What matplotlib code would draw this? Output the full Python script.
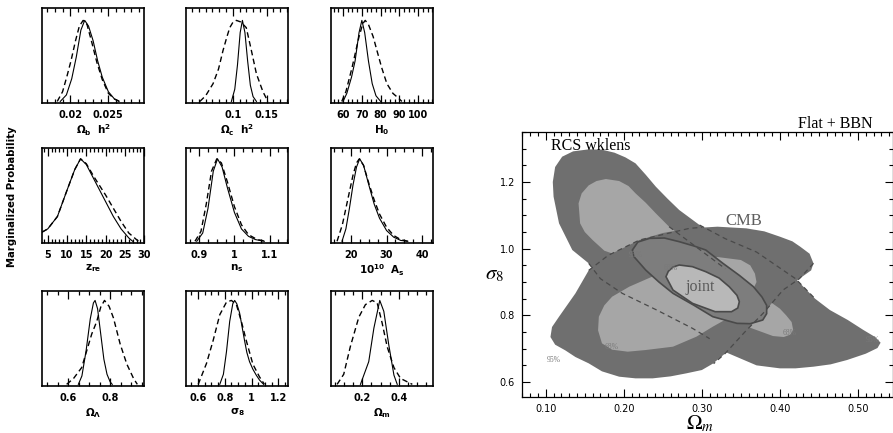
import matplotlib.pyplot as plt
from matplotlib.ticker import MultipleLocator

plt.rcParams['font.family'] = ['DejaVu Sans']

# ---------------- marginalized probability curves (peak = 1) ----------------
# Omega_b h^2
obh2_solid_x = [0.0187, 0.0195, 0.0202, 0.0208, 0.0214, 0.0219, 0.0224, 0.0230, 0.0236, 0.0242, 0.0250, 0.0258, 0.0264]
obh2_solid_y = [0, 0.08, 0.28, 0.55, 0.88, 1.0, 0.93, 0.75, 0.5, 0.3, 0.12, 0.03, 0]
obh2_dash_x = [0.0183, 0.0190, 0.0196, 0.0201, 0.0207, 0.0212, 0.0217, 0.0222, 0.0228, 0.0235, 0.0242, 0.0250, 0.0258, 0.0265]
obh2_dash_y = [0, 0.12, 0.32, 0.5, 0.75, 0.93, 1.0, 0.95, 0.74, 0.48, 0.27, 0.1, 0.03, 0]

# Omega_c h^2
och2_solid_x = [0.098, 0.103, 0.107, 0.111, 0.1143, 0.118, 0.122, 0.126, 0.130, 0.135]
och2_solid_y = [0, 0.15, 0.45, 0.85, 1.0, 0.85, 0.5, 0.2, 0.06, 0]
och2_dash_x = [0.0515, 0.060, 0.071, 0.079, 0.0857, 0.0915, 0.0956, 0.1005, 0.1054, 0.112, 0.120, 0.1275, 0.135, 0.1446, 0.152]
och2_dash_y = [0, 0.07, 0.22, 0.4, 0.63, 0.8, 0.91, 0.98, 1.0, 0.98, 0.91, 0.63, 0.34, 0.12, 0]

# H_0
h0_solid_x = [60, 62, 64.5, 66.4, 68.5, 70, 71.5, 73.5, 75.5, 77.5, 80]
h0_solid_y = [0, 0.1, 0.3, 0.5, 0.85, 1.0, 0.85, 0.5, 0.22, 0.07, 0]
h0_dash_x = [59.3, 61.5, 64.8, 68.4, 70.5, 71.8, 73.5, 76, 78, 80.5, 83.3, 86.5, 89.5, 91.3]
h0_dash_y = [0, 0.12, 0.42, 0.79, 0.96, 1.0, 0.95, 0.8, 0.63, 0.42, 0.22, 0.1, 0.04, 0]

# z_re
zre_solid_x = [3.5, 5, 7.5, 10, 12, 13.5, 15, 17, 20, 22, 24, 26, 27]
zre_solid_y = [0.11, 0.15, 0.3, 0.62, 0.87, 1.0, 0.93, 0.75, 0.48, 0.3, 0.15, 0.04, 0]
zre_dash_x = [3.5, 5, 7.5, 10, 12, 13.5, 15, 17, 20, 22, 24, 26, 28, 28.5]
zre_dash_y = [0.11, 0.15, 0.3, 0.62, 0.87, 1.0, 0.94, 0.78, 0.56, 0.4, 0.24, 0.1, 0.02, 0]

# n_s
ns_solid_x = [0.893, 0.91, 0.925, 0.94, 0.952, 0.965, 0.98, 1.0, 1.02, 1.04, 1.06, 1.085]
ns_solid_y = [0, 0.1, 0.4, 0.85, 1.0, 0.9, 0.65, 0.35, 0.15, 0.06, 0.02, 0]
ns_dash_x = [0.888, 0.905, 0.92, 0.935, 0.95, 0.963, 0.98, 1.0, 1.02, 1.04, 1.065, 1.09]
ns_dash_y = [0, 0.12, 0.45, 0.85, 1.0, 0.95, 0.72, 0.42, 0.2, 0.08, 0.02, 0]

# 10^10 A_s
as_solid_x = [17.4, 18.5, 19.5, 20.5, 21.5, 22.4, 23.5, 25, 26.5, 28, 30, 32, 34, 36]
as_solid_y = [0, 0.15, 0.4, 0.68, 0.9, 1.0, 0.92, 0.68, 0.45, 0.28, 0.13, 0.05, 0.01, 0]
as_dash_x = [16, 17.5, 19, 20.5, 21.5, 22.3, 23.5, 25, 26.5, 28, 30, 32, 34, 36]
as_dash_y = [0, 0.2, 0.5, 0.8, 0.95, 1.0, 0.92, 0.7, 0.5, 0.33, 0.17, 0.07, 0.02, 0]

# Omega_Lambda
ol_solid_x = [0.648, 0.665, 0.685, 0.705, 0.72, 0.728, 0.74, 0.755, 0.77, 0.785, 0.80, 0.81]
ol_solid_y = [0, 0.1, 0.4, 0.78, 0.97, 1.0, 0.9, 0.6, 0.3, 0.12, 0.03, 0]
ol_dash_x = [0.592, 0.625, 0.664, 0.688, 0.712, 0.736, 0.755, 0.773, 0.795, 0.816, 0.848, 0.88, 0.912, 0.93]
ol_dash_y = [0, 0.07, 0.2, 0.4, 0.6, 0.75, 0.92, 1.0, 0.93, 0.79, 0.48, 0.24, 0.07, 0]

# sigma_8
s8_solid_x = [0.763, 0.79, 0.813, 0.837, 0.86, 0.874, 0.89, 0.911, 0.93, 0.948, 0.965, 0.985, 1.01, 1.035, 1.06, 1.09]
s8_solid_y = [0, 0.12, 0.39, 0.75, 0.96, 1.0, 0.96, 0.85, 0.68, 0.52, 0.38, 0.27, 0.18, 0.11, 0.05, 0]
s8_dash_x = [0.602, 0.664, 0.713, 0.763, 0.813, 0.85, 0.887, 0.924, 0.961, 1.01, 1.059, 1.096]
s8_dash_y = [0, 0.25, 0.52, 0.83, 0.98, 1.0, 0.95, 0.75, 0.52, 0.24, 0.09, 0]

# Omega_m
om_solid_x = [0.191, 0.236, 0.264, 0.296, 0.318, 0.345, 0.373, 0.391]
om_solid_y = [0, 0.27, 0.67, 1.0, 0.87, 0.47, 0.11, 0]
om_dash_x = [0.064, 0.1, 0.136, 0.182, 0.218, 0.255, 0.282, 0.309, 0.336, 0.373, 0.409, 0.473]
om_dash_y = [0, 0.12, 0.45, 0.8, 0.95, 1.0, 0.97, 0.73, 0.45, 0.2, 0.07, 0]

panel_labels = [r'$\mathbf{\Omega_b\ \ h^2}$', r'$\mathbf{\Omega_c\ \ h^2}$', r'$\mathbf{H_0}$',
                r'$\mathbf{z_{re}}$', r'$\mathbf{n_s}$', r'$\mathbf{10^{10}\ \ A_s}$',
                r'$\mathbf{\Omega_\Lambda}$', r'$\mathbf{\sigma_8}$', r'$\mathbf{\Omega_m}$']
panel_ticks = [[0.02, 0.025], [0.1, 0.15], [60, 70, 80, 90, 100],
               [5, 10, 15, 20, 25, 30], [0.9, 1.0, 1.1], [20, 30, 40],
               [0.6, 0.8], [0.6, 0.8, 1.0, 1.2], [0.2, 0.4]]
panel_ticklabels = [['0.02', '0.025'], ['0.1', '0.15'], ['60', '70', '80', '90', '100'],
                    ['5', '10', '15', '20', '25', '30'], ['0.9', '1', '1.1'], ['20', '30', '40'],
                    ['0.6', '0.8'], ['0.6', '0.8', '1', '1.2'], ['0.2', '0.4']]

# ---------------- Omega_m - sigma_8 plane ----------------
rcs95_x = [0.109, 0.112, 0.121, 0.135, 0.155, 0.172, 0.188, 0.202, 0.215, 0.228, 0.241, 0.256, 0.271,
           0.297, 0.33, 0.37, 0.42, 0.445, 0.464, 0.487, 0.507, 0.522, 0.529, 0.525, 0.51, 0.486,
           0.465, 0.443, 0.42, 0.40, 0.37, 0.33, 0.288, 0.243, 0.198, 0.17, 0.155, 0.134, 0.117, 0.110]
rcs95_y = [1.20, 1.245, 1.276, 1.292, 1.298, 1.297, 1.288, 1.274, 1.256, 1.222, 1.186, 1.15, 1.116,
           1.071, 1.03, 0.99, 0.91, 0.85, 0.816, 0.786, 0.756, 0.735, 0.718, 0.702, 0.685, 0.666,
           0.653, 0.646, 0.641, 0.641, 0.65, 0.69, 0.761, 0.815, 0.866, 0.91, 0.956, 0.996, 1.076, 1.156]
rcs68_x = [0.165, 0.177, 0.194, 0.206, 0.215, 0.228, 0.241, 0.258, 0.29, 0.33, 0.37, 0.40, 0.408,
           0.415, 0.417, 0.413, 0.405, 0.391, 0.37, 0.33, 0.28, 0.23, 0.198, 0.175, 0.160, 0.150,
           0.144, 0.142, 0.146, 0.155]
rcs68_y = [1.203, 1.209, 1.203, 1.188, 1.166, 1.138, 1.106, 1.066, 1.01, 0.94, 0.87, 0.82, 0.80,
           0.78, 0.756, 0.742, 0.735, 0.738, 0.756, 0.79, 0.86, 0.93, 0.975, 0.994, 1.026, 1.05,
           1.076, 1.136, 1.166, 1.19]
cmb95_x = [0.106, 0.108, 0.117, 0.138, 0.155, 0.18, 0.22, 0.25, 0.284, 0.32, 0.357, 0.38, 0.40,
           0.416, 0.426, 0.438, 0.443, 0.44, 0.425, 0.404, 0.38, 0.355, 0.33, 0.314, 0.30, 0.28,
           0.26, 0.237, 0.215, 0.194, 0.172, 0.155, 0.138, 0.125, 0.112]
cmb95_y = [0.735, 0.765, 0.796, 0.866, 0.935, 0.98, 1.026, 1.047, 1.061, 1.066, 1.061, 1.052, 1.036,
           1.022, 1.006, 0.985, 0.956, 0.935, 0.91, 0.876, 0.81, 0.75, 0.686, 0.655, 0.636, 0.626,
           0.617, 0.611, 0.611, 0.616, 0.632, 0.656, 0.675, 0.695, 0.712]
cmb68_x = [0.172, 0.167, 0.168, 0.175, 0.185, 0.207, 0.25, 0.29, 0.32, 0.35, 0.362, 0.368, 0.37,
           0.36, 0.34, 0.314, 0.293, 0.263, 0.228, 0.205, 0.185]
cmb68_y = [0.716, 0.755, 0.796, 0.83, 0.856, 0.886, 0.93, 0.96, 0.975, 0.966, 0.95, 0.925, 0.90,
           0.85, 0.80, 0.766, 0.736, 0.706, 0.696, 0.691, 0.697]
joint95_x = [0.211, 0.218, 0.233, 0.252, 0.271, 0.29, 0.305, 0.327, 0.348, 0.366, 0.377, 0.383,
             0.383, 0.378, 0.362, 0.345, 0.314, 0.29, 0.263, 0.245, 0.228, 0.213]
joint95_y = [0.996, 1.02, 1.031, 1.032, 1.021, 1.008, 0.996, 0.956, 0.92, 0.886, 0.855, 0.83,
             0.805, 0.786, 0.775, 0.776, 0.796, 0.83, 0.866, 0.9, 0.936, 0.976]
joint68_x = [0.254, 0.257, 0.263, 0.271, 0.288, 0.305, 0.322, 0.335, 0.345, 0.348, 0.346, 0.338,
             0.317, 0.288, 0.263]
joint68_y = [0.916, 0.932, 0.945, 0.951, 0.946, 0.931, 0.912, 0.886, 0.86, 0.841, 0.822, 0.811,
             0.811, 0.836, 0.876]

# dashed contour edges seen through the filled regions
dash_a_x = [0.155, 0.18, 0.22, 0.284, 0.30]
dash_a_y = [0.935, 0.98, 1.026, 1.061, 1.064]
dash_b_x = [0.443, 0.425, 0.404, 0.38, 0.355, 0.33, 0.315]
dash_b_y = [0.956, 0.91, 0.876, 0.81, 0.75, 0.686, 0.655]
dash_c_x = [0.155, 0.17, 0.198, 0.243, 0.288, 0.31]
dash_c_y = [0.956, 0.91, 0.866, 0.815, 0.761, 0.73]
dash_d_x = [0.297, 0.33, 0.37, 0.42, 0.445]
dash_d_y = [1.071, 1.03, 0.99, 0.91, 0.85]
dash_e_x = [0.258, 0.29, 0.33]
dash_e_y = [1.066, 1.01, 0.94]

pct_text = ['95%', '68%', '68%', '95%', '95%', '68%']
pct_x = [0.110, 0.185, 0.412, 0.519, 0.215, 0.260]
pct_y = [0.666, 0.706, 0.746, 0.726, 0.981, 0.941]

om_ticks = [0.1, 0.2, 0.3, 0.4, 0.5]
om_ticklabels = ['0.10', '0.20', '0.30', '0.40', '0.50']
s8_ticks = [0.6, 0.8, 1.0, 1.2]
s8_ticklabels = ['0.6', '0.8', '1.0', '1.2']

# ---------------- figure ----------------
fig = plt.figure(figsize=(8.93, 4.33), dpi=100)

curves = [(obh2_solid_x, obh2_solid_y, obh2_dash_x, obh2_dash_y),
          (och2_solid_x, och2_solid_y, och2_dash_x, och2_dash_y),
          (h0_solid_x, h0_solid_y, h0_dash_x, h0_dash_y),
          (zre_solid_x, zre_solid_y, zre_dash_x, zre_dash_y),
          (ns_solid_x, ns_solid_y, ns_dash_x, ns_dash_y),
          (as_solid_x, as_solid_y, as_dash_x, as_dash_y),
          (ol_solid_x, ol_solid_y, ol_dash_x, ol_dash_y),
          (s8_solid_x, s8_solid_y, s8_dash_x, s8_dash_y),
          (om_solid_x, om_solid_y, om_dash_x, om_dash_y)]
xlims = [(0.0163, 0.0297), (0.031, 0.182), (53.6, 108), (3.5, 30), (0.8625, 1.153),
         (14.3, 43.2), (0.474, 0.963), (0.511, 1.274), (0.031, 0.587)]
minors = [0.001, 0.01, 2.5, 1, 0.025, 2.5, 0.05, 0.05, 0.05]
col_left = [0.047, 0.2083, 0.3707]
row_bottom = [0.762, 0.439, 0.1085]
row_top = [1.15, 1.13, 1.11]

for i in range(9):
    r, c = divmod(i, 3)
    ax = fig.add_axes([col_left[c], row_bottom[r], 0.1145, 0.219])
    sx, sy, dx, dy = curves[i]
    ax.plot(sx, sy, color='k', lw=0.8)
    ax.plot(dx, dy, color='k', lw=1.0, ls=(0, (4, 2.5)))
    ax.set_xlim(xlims[i])
    ax.set_ylim(-0.02, row_top[r])
    ax.set_yticks([])
    ax.set_xticks(panel_ticks[i], panel_ticklabels[i], fontweight='bold')
    ax.xaxis.set_minor_locator(MultipleLocator(minors[i]))
    ax.xaxis.set_ticks_position('both')
    ax.tick_params(axis='x', which='both', direction='in', top=True, bottom=True,
                   labeltop=False, width=0.9, labelsize=7, pad=5)
    ax.tick_params(axis='x', which='major', length=5.5)
    ax.tick_params(axis='x', which='minor', length=3)
    for s in ax.spines.values():
        s.set_linewidth(1.2)
    ax.set_xlabel(panel_labels[i], fontsize=7.5, labelpad=2, math_fontfamily='dejavusans')

fig.text(0.0134, 0.545, 'Marginalized Probability', rotation=90, fontsize=7.3,
         fontweight='bold', ha='center', va='center')

# right panel
dark = '#6f6f6f'
light = '#a6a6a6'
axr = fig.add_axes([0.5846, 0.0831, 0.4155, 0.612])
axr.fill(rcs95_x, rcs95_y, color=dark, lw=0)
axr.fill(rcs68_x, rcs68_y, color=light, lw=0)
axr.fill(cmb95_x, cmb95_y, color=dark, lw=0)
axr.fill(cmb68_x, cmb68_y, color=light, lw=0)
for xs, ys in [(dash_a_x, dash_a_y), (dash_b_x, dash_b_y), (dash_c_x, dash_c_y),
               (dash_d_x, dash_d_y), (dash_e_x, dash_e_y)]:
    axr.plot(xs, ys, color='#4a4a4a', lw=0.9, ls=(0, (4, 3)))
axr.fill(joint95_x, joint95_y, facecolor='#7d7d7d', edgecolor='#4a4a4a', lw=1.2)
axr.fill(joint68_x, joint68_y, facecolor='#b8b8b8', edgecolor='#4a4a4a', lw=1.2)

for t, x, y in zip(pct_text, pct_x, pct_y):
    axr.text(x, y, t, fontsize=5.5, color='#7a7a7a', ha='center', va='center',
             family='Liberation Serif')
axr.text(0.298, 0.885, 'joint', fontsize=11.5, color='#5a5a5a', ha='center', va='center',
         family='Liberation Serif')
axr.text(0.354, 1.083, 'CMB', fontsize=12, color='#5e5e5e', ha='center', va='center',
         family='Liberation Serif')
axr.text(0.107, 1.296, 'RCS wklens', fontsize=11.5, color='k', ha='left', va='baseline',
         family='Liberation Serif')

axr.set_xlim(0.0696, 0.545)
axr.set_ylim(0.555, 1.35)
axr.set_xticks(om_ticks, om_ticklabels)
axr.set_yticks(s8_ticks, s8_ticklabels)
axr.xaxis.set_minor_locator(MultipleLocator(0.01))
axr.yaxis.set_minor_locator(MultipleLocator(0.05))
axr.tick_params(which='both', direction='in', top=True, right=True, width=0.8, labelsize=7, pad=5)
axr.tick_params(which='major', length=6)
axr.tick_params(which='minor', length=3)
for s in axr.spines.values():
    s.set_linewidth(0.9)

fig.text(0.554, 0.367, r'$\sigma_8$', fontsize=15, ha='center', va='center', math_fontfamily='stix')
fig.text(0.784, 0.021, r'$\Omega_m$', fontsize=15, ha='center', va='center', math_fontfamily='stix')
fig.text(0.9776, 0.704, 'Flat + BBN', fontsize=11.5, ha='right', va='baseline',
         family='Liberation Serif')

fig.savefig('out.png', dpi=100)
